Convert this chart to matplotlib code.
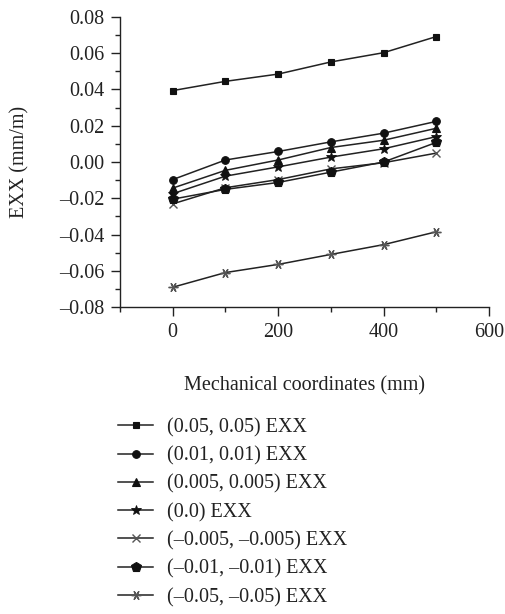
import matplotlib
matplotlib.use('Agg')
import matplotlib.pyplot as plt
from matplotlib.ticker import MultipleLocator, FuncFormatter

plt.rcParams['font.family'] = ['Liberation Serif', 'DejaVu Serif']
plt.rcParams['font.size'] = 14.5

# Mechanical coordinates (mm)
coords = [0, 100, 200, 300, 400, 500]

# EXX strain readings (mm/m) for each displacement case
exx_005 = [0.0394, 0.0445, 0.0485, 0.0552, 0.0603, 0.0692]
exx_001 = [-0.0097, 0.0011, 0.0058, 0.0111, 0.0159, 0.0224]
exx_0005 = [-0.0144, -0.0046, 0.0011, 0.0080, 0.0120, 0.0186]
exx_0 = [-0.0175, -0.0078, -0.0027, 0.0027, 0.0073, 0.0140]
exx_m0005 = [-0.0231, -0.0142, -0.0097, -0.0038, -0.0004, 0.0049]
exx_m001 = [-0.0205, -0.0151, -0.0113, -0.0056, 0.0000, 0.0108]
exx_m005 = [-0.0691, -0.0610, -0.0565, -0.0510, -0.0456, -0.0385]

labels = ['(0.05, 0.05) EXX', '(0.01, 0.01) EXX', '(0.005, 0.005) EXX',
          '(0.0) EXX', '(\u20130.005, \u20130.005) EXX',
          '(\u20130.01, \u20130.01) EXX', '(\u20130.05, \u20130.05) EXX']
series = [exx_005, exx_001, exx_0005, exx_0, exx_m0005, exx_m001, exx_m005]

# marker, size, face colour, edge width
styles = [('s', 5, '#111111', 0.8),
          ('o', 5.5, '#111111', 0.8),
          ('^', 5.5, '#111111', 0.8),
          ('*', 7, '#111111', 0.6),
          ('x', 6, '#555555', 1.0),
          ('p', 7, '#111111', 0.8),
          ((6, 2, 90), 7, '#555555', 1.0)]

fig = plt.figure(figsize=(5.05, 6.14), dpi=100)
ax = fig.add_axes([120/505, 1 - 307/614, 369/505, 290/614])

for vals, lab, (m, ms, c, mew) in zip(series, labels, styles):
    ax.plot(coords, vals, color='#222222', lw=1.1, marker=m, ms=ms,
            mfc=c, mec=c, mew=mew, label=lab)

ax.set_xlim(-100, 600)
ax.set_ylim(-0.08, 0.08)
ax.xaxis.set_major_locator(MultipleLocator(200))
ax.xaxis.set_minor_locator(MultipleLocator(100))
ax.yaxis.set_major_locator(MultipleLocator(0.02))
ax.yaxis.set_minor_locator(MultipleLocator(0.01))
# dash-style minus on the negative tick labels
ax.yaxis.set_major_formatter(
    FuncFormatter(lambda v, pos: ('%.2f' % v).replace('-', '\u2013')))

for side in ['top', 'right']:
    ax.spines[side].set_visible(False)
for side in ['left', 'bottom']:
    ax.spines[side].set_linewidth(1.0)
    ax.spines[side].set_color('#222222')

ax.tick_params(which='major', direction='out', length=6.5, width=1.0,
               colors='#222222', labelcolor='#222222', labelsize=14.5, pad=5)
ax.tick_params(which='minor', direction='out', length=3.5, width=1.0,
               colors='#222222')

ax.set_xlabel('Mechanical coordinates (mm)', fontsize=14.5, color='#222222',
              labelpad=25)
ax.set_ylabel('EXX (mm/m)', fontsize=14.5, color='#222222')
ax.yaxis.set_label_coords(-0.245, 0.5)

fig.legend(loc='upper left', bbox_to_anchor=(118/505, 1 - 418/614),
           frameon=False, borderpad=0, borderaxespad=0, handlelength=1.75,
           handletextpad=0.7, labelspacing=0.45, fontsize=14.5,
           labelcolor='#222222')

fig.savefig('out.png', dpi=100)
